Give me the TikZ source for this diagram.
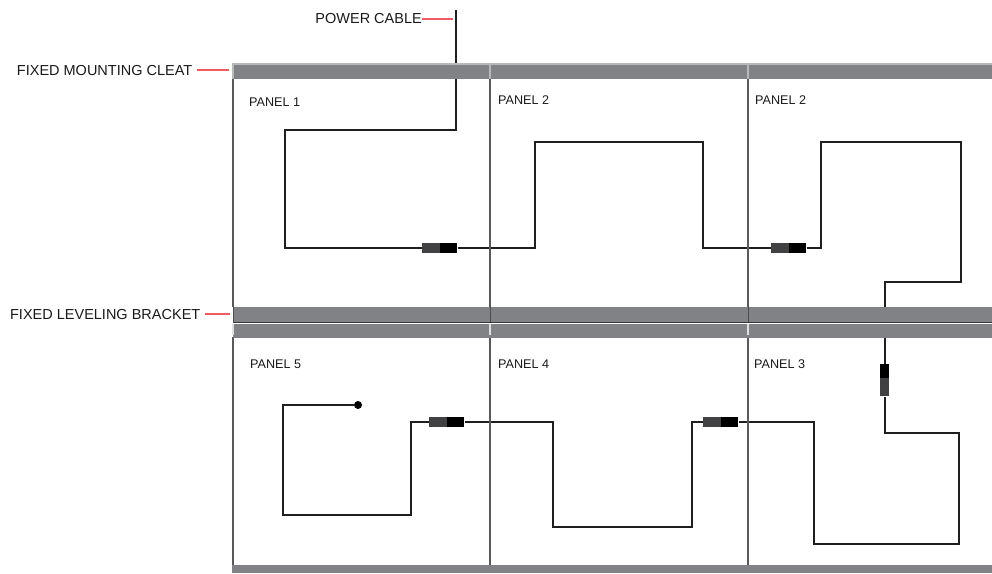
\documentclass[tikz,border=0pt]{standalone}
\usepackage{fontspec}
\setmainfont{Liberation Sans}
\usetikzlibrary{positioning}
\definecolor{bandgray}{HTML}{808285}
\definecolor{plugdark}{HTML}{414042}
\definecolor{leaderred}{HTML}{EF5A64}
\tikzset{
    cable/.style={line width=1.8pt,black!88},
    panelline/.style={line width=1.5pt,black!65},
    leader/.style={line width=1.2pt,leaderred},
    plugrear/.style={fill=plugdark,inner sep=0pt,minimum width=#1,minimum height=9.5pt},
    plugfront/.style={fill=black,inner sep=0pt,minimum width=#1,minimum height=9.5pt},
    biglabel/.style={inner sep=0pt,font=\fontsize{14.5}{16}\selectfont,text=black!90},
    panellabel/.style={inner sep=0pt,anchor=west,font=\fontsize{12.6}{14}\selectfont,text=black!90},
}
\begin{document}
\begin{tikzpicture}[x=1pt,y=-1pt]
    \useasboundingbox (0,0) rectangle (992,573);

    % plugs
    \node[plugrear=18pt] (plugA) at (431,247.8) {};
    \node[plugfront=17pt,right=0pt of plugA] (plugAf) {};
    \node[plugrear=18pt] (plugB) at (780,247.8) {};
    \node[plugfront=17pt,right=0pt of plugB] (plugBf) {};
    \node[plugrear=18pt] (plugD) at (712,422) {};
    \node[plugfront=17pt,right=0pt of plugD] (plugDf) {};
    \node[plugrear=18pt] (plugE) at (438,422) {};
    \node[plugfront=17pt,right=0pt of plugE] (plugEf) {};
    \node[fill=black,inner sep=0pt,minimum width=9pt,minimum height=14pt] (plugCf) at (884.8,371) {};
    \node[fill=plugdark,inner sep=0pt,minimum width=9pt,minimum height=18pt,below=0pt of plugCf] (plugC) {};
    \node[circle,fill=black,inner sep=0pt,minimum size=8pt] (cableend) at (358,405) {};

    % cable
    \coordinate (cabletop) at (456,10);
    \coordinate (cabletap) at (456,19);
    \draw[cable] (cabletop) -- (456,130) -- (285,130) -- (285,247.8) -- (plugA);
    \draw[cable] (plugAf) -- (535,247.8) -- (535,142) -- (703,142) -- (703,247.8) -- (plugB);
    \draw[cable] (plugBf) -- (821,247.8) -- (821,142) -- (961,142) -- (961,282) -- (884.8,282) -- (plugCf);
    \draw[cable] (plugC) -- (884.8,433) -- (959,433) -- (959,544) -- (814,544) -- (814,422) -- (plugDf);
    \draw[cable] (plugD) -- (692,422) -- (692,527) -- (553,527) -- (553,422) -- (plugEf);
    \draw[cable] (plugE) -- (411,422) -- (411,515) -- (283,515) -- (283,405) -- (cableend);

    % panels
    \foreach \x in {233,490,748} {
        \draw[panelline] (\x,79) -- (\x,307);
        \draw[panelline] (\x,337) -- (\x,565);
    }
    \draw[panelline] (748,565) -- (748,573);

    % bands
    \fill[black!28] (232,63) rectangle (992,65);
    \fill[bandgray] (233,65) rectangle (992,79);
    \fill[bandgray] (233,307) rectangle (992,322);
    \fill[bandgray] (233,324) rectangle (992,337.5);
    \fill[bandgray] (232,565) rectangle (992,573);
    \foreach \x in {233,490,748} {
        \draw[line width=1.2pt,black!28] (\x,64) -- (\x,79);
        \draw[line width=0.5pt,black!70] (\x,307) -- (\x,322);
        \draw[line width=1.2pt,black!12] (\x,324) -- (\x,335);
    }
    \draw[line width=0.9pt,black!78] (233,322.6) -- (992,322.6);
    \draw[line width=0.8pt,white] (233,323.7) -- (992,323.7);

    \node[panellabel] (panelA) at (249,102) {PANEL 1};
    \node[panellabel] (panelB) at (498,100) {PANEL 2};
    \node[panellabel] (panelC) at (755,100) {PANEL 2};
    \node[panellabel] (panelF) at (250,364) {PANEL 5};
    \node[panellabel] (panelE) at (498,364) {PANEL 4};
    \node[panellabel] (panelD) at (754,364) {PANEL 3};

    % callouts
    \node[biglabel,anchor=east] (cablelabel) at (422,19) {POWER CABLE};
    \node[biglabel,anchor=east] (cleatlabel) at (192.5,71) {FIXED MOUNTING CLEAT};
    \node[biglabel,anchor=east] (bracketlabel) at (200.5,315) {FIXED LEVELING BRACKET};
    \coordinate (cleattap) at (229,70);
    \coordinate (brackettap) at (230,314);
    \draw[leader] (cablelabel.east |- cabletap) -- ([xshift=-3pt]cabletap);
    \draw[leader] ([xshift=4.5pt]cleatlabel.east |- cleattap) -- (cleattap);
    \draw[leader] ([xshift=4.5pt]bracketlabel.east |- brackettap) -- (brackettap);
\end{tikzpicture}
\end{document}
